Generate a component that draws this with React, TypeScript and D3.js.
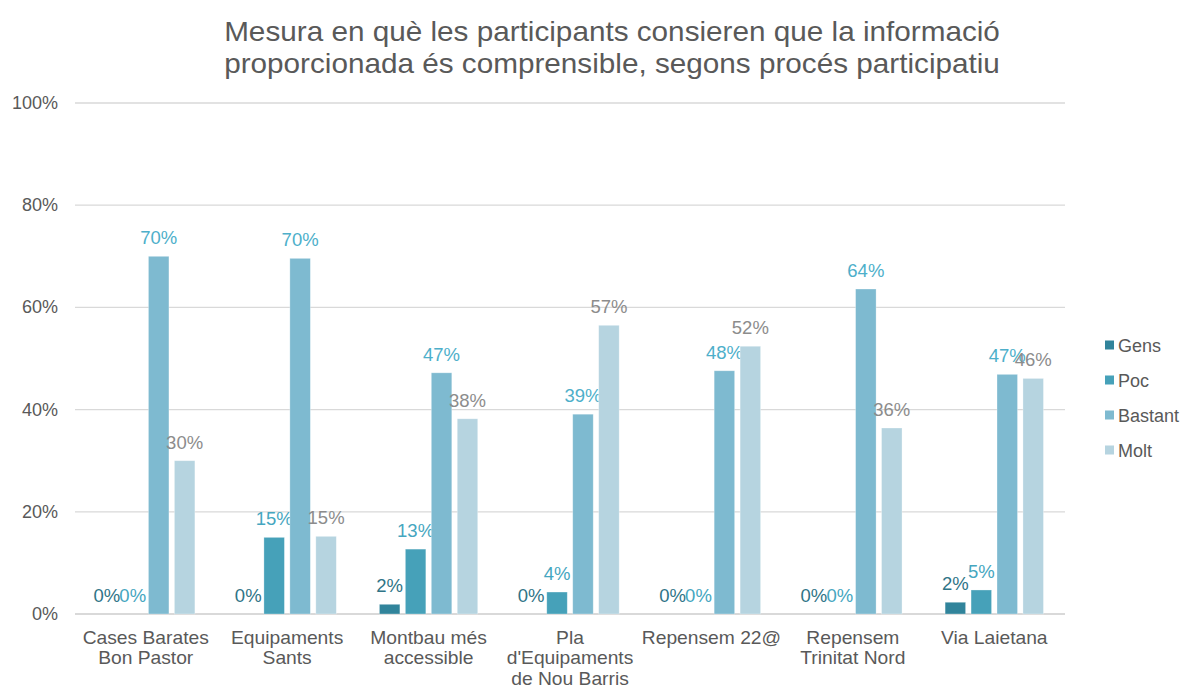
import React from "react";
import * as d3 from "d3";

const categories = [
  ["Cases Barates", "Bon Pastor"],
  ["Equipaments", "Sants"],
  ["Montbau més", "accessible"],
  ["Pla", "d'Equipaments", "de Nou Barris"],
  ["Repensem 22@"],
  ["Repensem", "Trinitat Nord"],
  ["Via Laietana"],
];
const seriesNames = ["Gens", "Poc", "Bastant", "Molt"];
const gens = [0, 0, 1.9, 0, 0, 0, 2.3];
const poc = [0, 15, 12.7, 4.3, 0, 0, 4.7];
const bastant = [70, 69.6, 47.2, 39.1, 47.6, 63.6, 46.9];
const molt = [30, 15.2, 38.2, 56.5, 52.4, 36.4, 46.1];
const yTicks = [0, 20, 40, 60, 80, 100];
const titleLines = [
  "Mesura en què les participants consieren que la informació",
  "proporcionada és comprensible, segons procés participatiu",
];

const barColors = ["#31849B", "#46A1B9", "#7EBAD0", "#B6D4E0"];
const labelColors = ["#2F7487", "#45A6C0", "#4DAFCA", "#8C8C8C"];
const FONT = "'Liberation Sans', Arial, sans-serif";

export default function App() {
  const seriesValues = [gens, poc, bastant, molt];
  const x0 = d3
    .scaleBand<number>()
    .domain(d3.range(categories.length))
    .range([75, 1065])
    .padding(0);
  const x1 = d3
    .scaleBand<number>()
    .domain(d3.range(seriesNames.length))
    .range([0, x0.bandwidth()])
    .paddingInner(0.21)
    .paddingOuter(0.83);
  const y = d3.scaleLinear().domain([0, 100]).range([614, 103]);

  return (
    <svg
      width={1184}
      height={689}
      style={{ position: "absolute", left: 0, top: 0, background: "#fff" }}
      fontFamily={FONT}
    >
      {titleLines.map((t, i) => (
        <text
          key={i}
          transform={`translate(612,${41 + i * 32}) scale(1.1,1)`}
          textAnchor="middle"
          fontSize={27}
          fill="#595959"
        >
          {t}
        </text>
      ))}
      {yTicks.map((t) => (
        <g key={t}>
          <line
            x1={75}
            x2={1065}
            y1={y(t)}
            y2={y(t)}
            stroke="#D9D9D9"
            strokeWidth={t === 0 ? 1.8 : 1.3}
          />
          <text
            x={58}
            y={y(t) + 6}
            textAnchor="end"
            fontSize={18}
            fill="#595959"
          >
            {t}%
          </text>
        </g>
      ))}
      {categories.map((lines, ci) => {
        const gx = x0(ci)!;
        return (
          <g key={ci}>
            {seriesValues.map((vals, si) => {
              const v = vals[ci];
              const bx = gx + x1(si)!;
              const bw = x1.bandwidth();
              return (
                <g key={si}>
                  {v > 0 && (
                    <rect
                      x={bx}
                      y={y(v)}
                      width={bw}
                      height={y(0) - y(v)}
                      fill={barColors[si]}
                      stroke="#ffffff"
                      strokeOpacity={0.4}
                      strokeWidth={0.75}
                    />
                  )}
                  <text
                    x={bx + bw / 2}
                    y={y(v) - 12}
                    textAnchor="middle"
                    fontSize={18.5}
                    fill={labelColors[si]}
                  >
                    {Math.round(v)}%
                  </text>
                </g>
              );
            })}
            {lines.map((l, li) => (
              <text
                key={li}
                transform={`translate(${gx + x0.bandwidth() / 2},${643.5 + li * 20.5}) scale(1.1,1)`}
                textAnchor="middle"
                fontSize={17.5}
                fill="#595959"
              >
                {l}
              </text>
            ))}
          </g>
        );
      })}
      {seriesNames.map((n, i) => (
        <g key={n}>
          <rect
            x={1105}
            y={345 + i * 35 - 4.5}
            width={9}
            height={9}
            fill={barColors[i]}
          />
          <text x={1118} y={345 + i * 35 + 6.5} fontSize={18} fill="#595959">
            {n}
          </text>
        </g>
      ))}
    </svg>
  );
}
